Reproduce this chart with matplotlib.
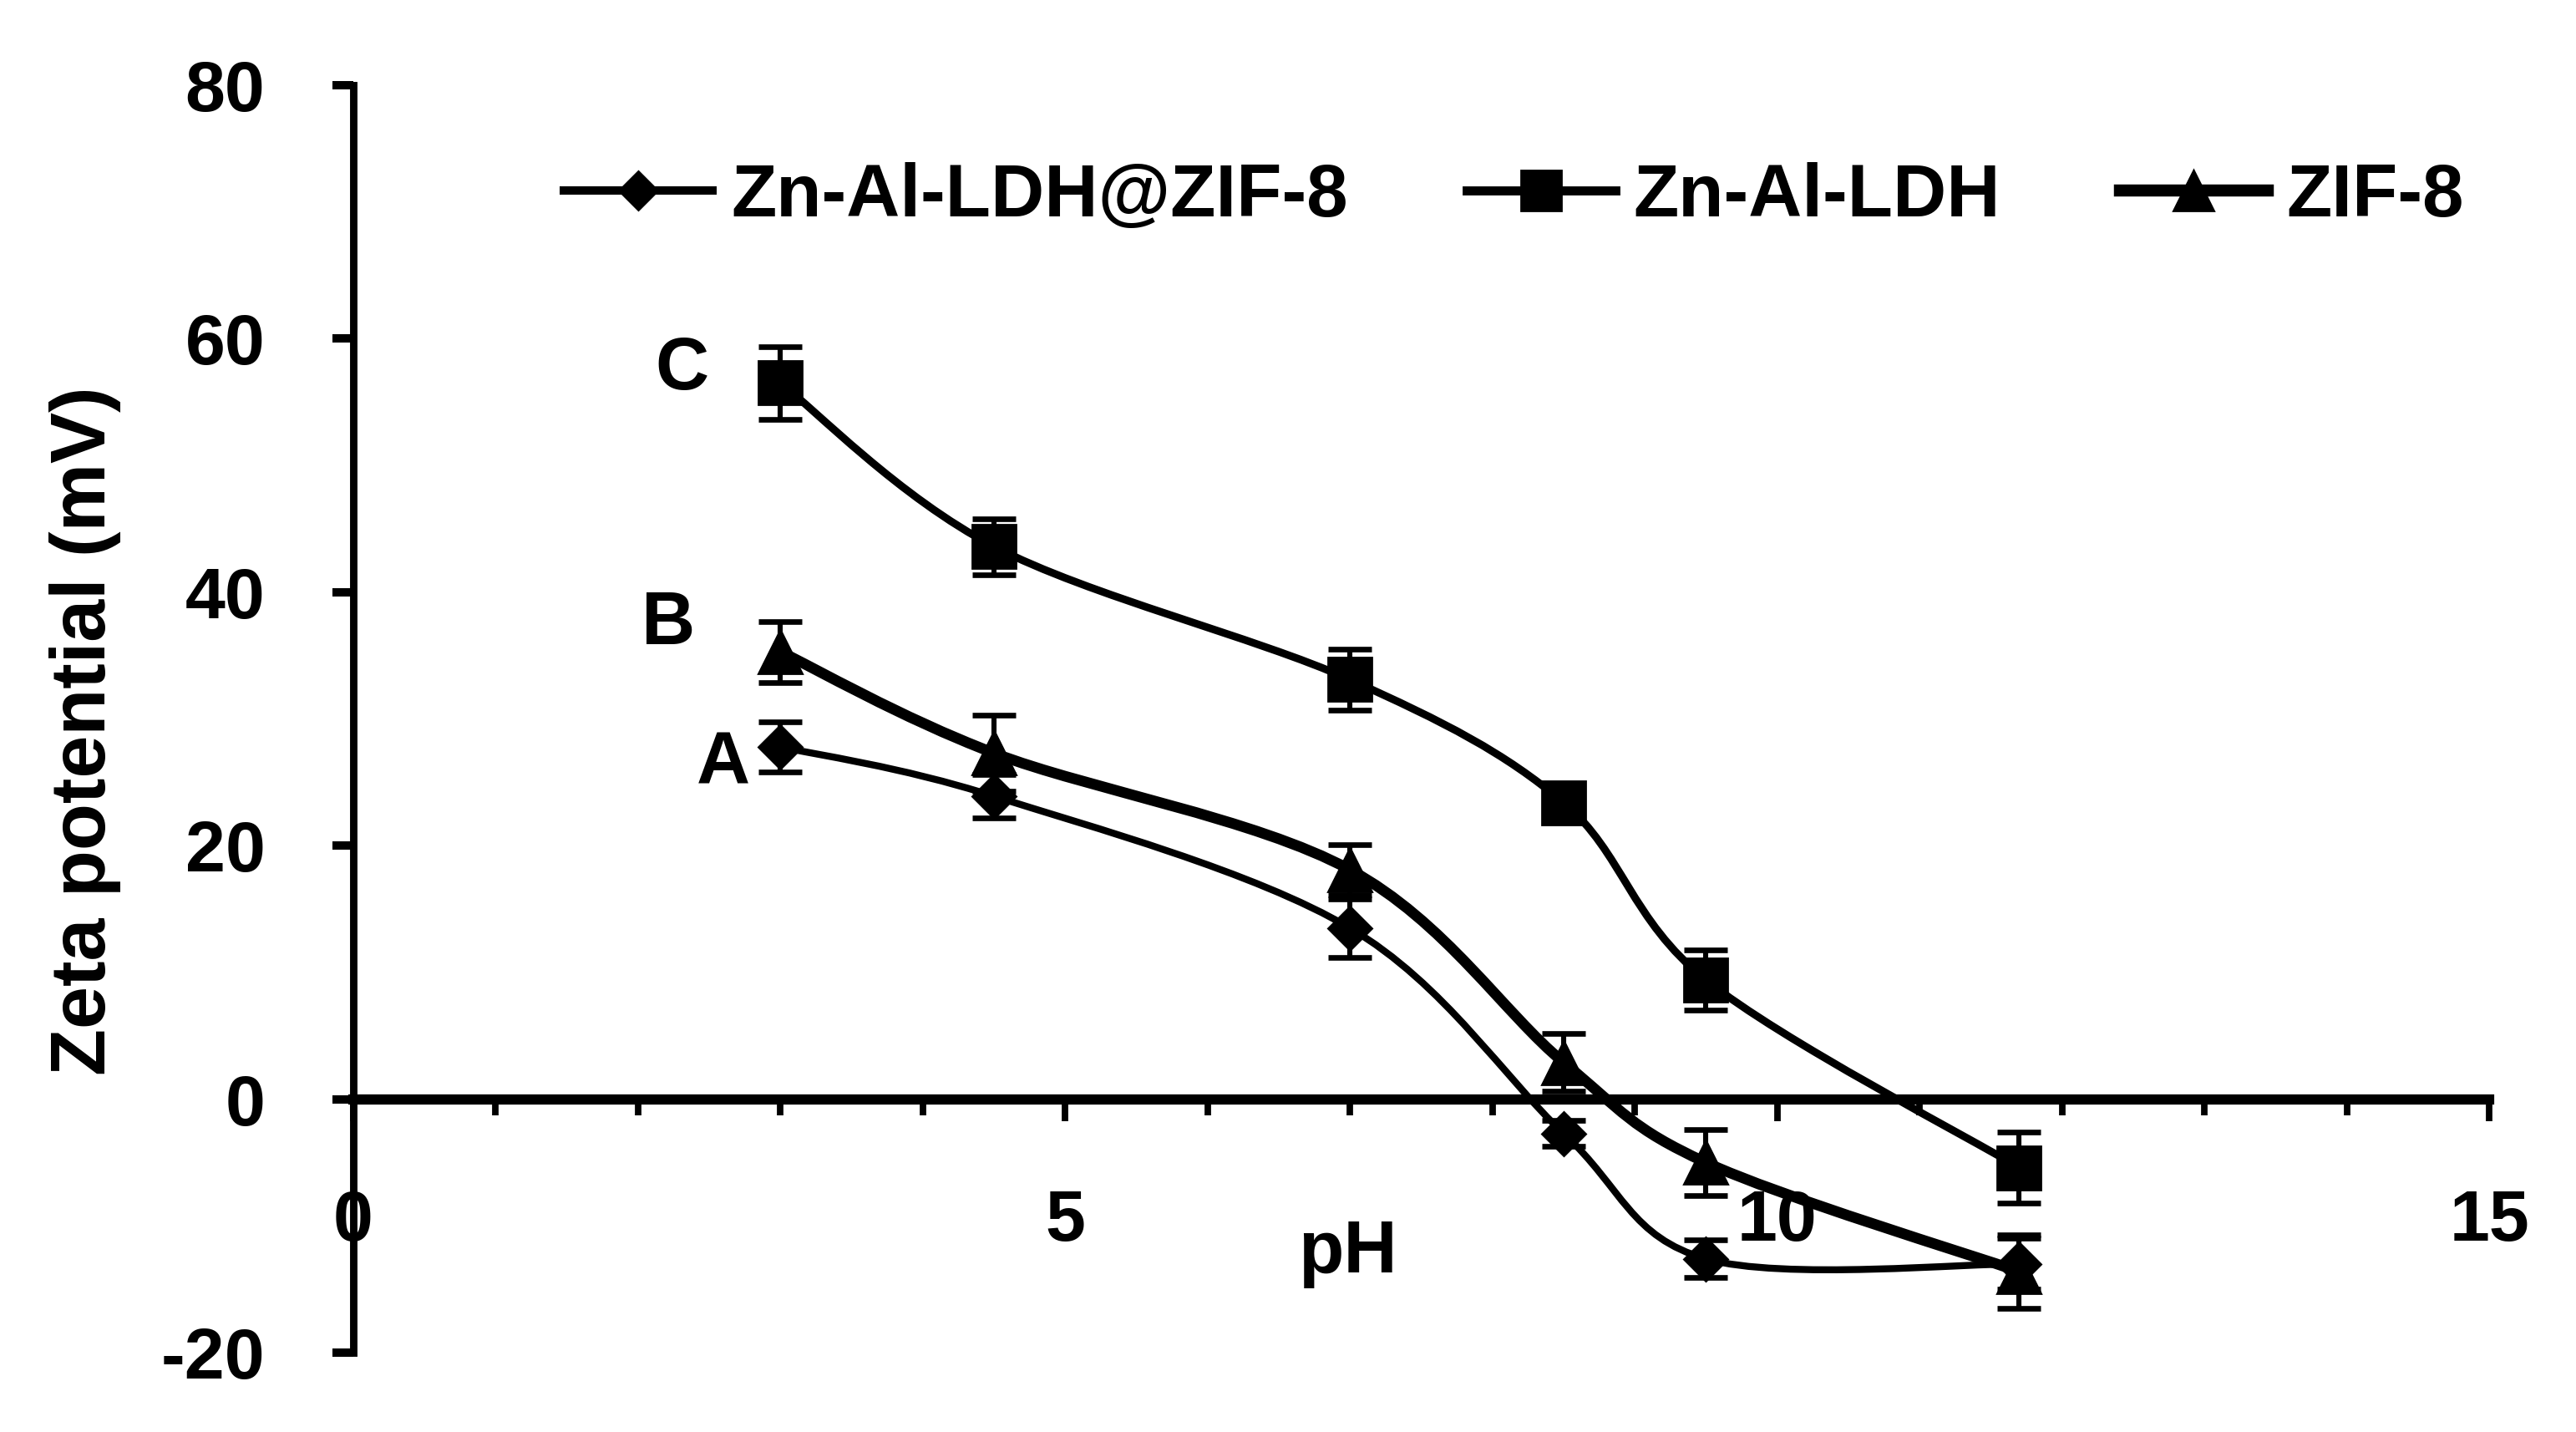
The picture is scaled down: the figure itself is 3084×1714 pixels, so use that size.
import numpy as np
import matplotlib
matplotlib.use("Agg")
import matplotlib.pyplot as plt
from matplotlib.path import Path
from matplotlib.patches import PathPatch
from matplotlib.lines import Line2D
from matplotlib.ticker import MultipleLocator

# ---- data ----
ph = [3.0, 4.5, 7.0, 8.5, 9.5, 11.7]
zn_al_ldh_zif8 = [27.8, 23.9, 13.5, -2.7, -12.6, -13.0]
zn_al_ldh_zif8_err = [2.0, 1.7, 2.3, 1.0, 1.5, 2.0]
zn_al_ldh = [56.5, 43.6, 33.1, 23.4, 9.4, -5.4]
zn_al_ldh_err = [2.9, 2.2, 2.4, 1.5, 2.4, 2.8]
zif8 = [35.3, 27.3, 18.1, 2.9, -5.0, -13.6]
zif8_err = [2.4, 3.0, 2.0, 2.3, 2.6, 2.9]
series_names = ["Zn-Al-LDH@ZIF-8", "Zn-Al-LDH", "ZIF-8"]
curve_labels = ["A", "B", "C"]
x_ticks = [0, 5, 10, 15]
y_ticks = [-20, 0, 20, 40, 60, 80]

FONT = ["Liberation Sans", "DejaVu Sans"]
plt.rcParams["font.family"] = FONT
plt.rcParams["font.weight"] = "bold"
plt.rcParams["axes.unicode_minus"] = False

W, H, DPI = 3084, 1714, 200
fig = plt.figure(figsize=(W / DPI, H / DPI), dpi=DPI)
ax = fig.add_axes([423 / W, 1 - 1619 / H, (2980 - 423) / W, (1619 - 102) / H])
ax.set_xlim(0, 15)
ax.set_ylim(-20, 80)


def smooth_path(x, y):
    pts = np.column_stack([x, y]).astype(float)
    n = len(pts)
    verts = [pts[0]]
    codes = [Path.MOVETO]
    for i in range(n - 1):
        p0 = pts[i - 1] if i > 0 else pts[i]
        p1 = pts[i]
        p2 = pts[i + 1]
        p3 = pts[i + 2] if i + 2 < n else pts[i + 1]
        c1 = p1 + (p2 - p0) / 6.0
        c2 = p2 - (p3 - p1) / 6.0
        verts += [c1, c2, p2]
        codes += [Path.CURVE4] * 3
    return Path(verts, codes)


specs = [
    (zn_al_ldh_zif8, zn_al_ldh_zif8_err, "D", 13, 3.0),
    (zn_al_ldh, zn_al_ldh_err, "s", 19, 3.3),
    (zif8, zif8_err, "^", 19, 4.6),
]

handles = []
for (vals, errs, mk, ms, lw), name in zip(specs, series_names):
    ax.add_patch(PathPatch(smooth_path(ph, vals), facecolor="none",
                           edgecolor="black", lw=lw, zorder=3, clip_on=False))
    ax.errorbar(ph, vals, yerr=errs, fmt="none", ecolor="black",
                elinewidth=2.2, capsize=9.5, capthick=2.4, zorder=4, clip_on=False)
    ax.plot(ph, vals, linestyle="none", marker=mk, markersize=ms,
            color="black", zorder=5, clip_on=False)
    handles.append(Line2D([], [], color="black", lw=lw + 0.6, marker=mk,
                          markersize=ms * 0.9, label=name))

# curve labels
ax.text(2.6, 26.4, curve_labels[0], fontsize=32, fontweight="bold", ha="center", va="center")
ax.text(2.21, 37.4, curve_labels[1], fontsize=32, fontweight="bold", ha="center", va="center")
ax.text(2.31, 57.5, curve_labels[2], fontsize=32, fontweight="bold", ha="center", va="center")

# spines
for s in ["top", "right"]:
    ax.spines[s].set_visible(False)
ax.spines["bottom"].set_position(("data", 0))
ax.spines["bottom"].set_linewidth(4.4)
ax.spines["left"].set_linewidth(3.2)

ax.set_xticks(x_ticks)
ax.xaxis.set_minor_locator(MultipleLocator(1))
ax.set_yticks(y_ticks)
ax.tick_params(axis="x", which="major", direction="out", length=9.5, width=2.8,
               pad=29, labelsize=31)
ax.tick_params(axis="x", which="minor", direction="out", length=7, width=2.8)
ax.tick_params(axis="y", which="major", direction="out", length=9, width=3.6,
               pad=29, labelsize=31)
for lab in ax.get_xticklabels() + ax.get_yticklabels():
    lab.set_fontweight("bold")

fig.text(102 / W, 1 - 875 / H, "Zeta potential (mV)", rotation=90,
         fontsize=33, fontweight="bold", ha="center", va="center")
fig.text(1613 / W, 1 - 1500 / H, "pH", fontsize=32, fontweight="bold",
         ha="center", va="center")

fig.legend(handles=handles, loc="center left", bbox_to_anchor=(675 / W, 1 - 236 / H),
           ncol=3, frameon=False, handlelength=2.0, handletextpad=0.25,
           columnspacing=1.6, borderpad=0, borderaxespad=0, numpoints=1,
           prop={"weight": "bold", "size": 32})

fig.savefig("out.png", dpi=DPI, facecolor="white")
